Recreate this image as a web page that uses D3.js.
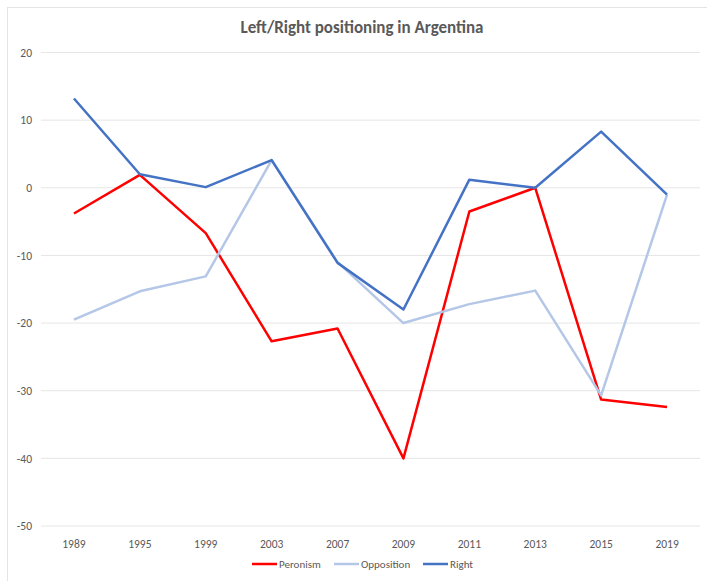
<!DOCTYPE html>
<html>
<head>
<meta charset="utf-8">
<script src="https://cdn.jsdelivr.net/npm/d3@7"></script>
<style>
  body { margin: 0; background: #fff; }
  text { font-family: Calibri, Carlito, "Liberation Sans Narrow", "DejaVu Sans Condensed", sans-serif; }
</style>
</head>
<body>
<div id="chart-container"></div>
<script>
// Data
const years = ["1989", "1995", "1999", "2003", "2007", "2009", "2011", "2013", "2015", "2019"];
const peronism   = [-3.8, 1.9, -6.7, -22.7, -20.8, -40, -3.5, 0, -31.3, -32.4];
const opposition = [-19.5, -15.3, -13.1, 4.1, -11, -20, -17.2, -15.2, -30.7, -1];
const right      = [13.2, 2, 0.1, 4.1, -11.1, -18, 1.2, 0, 8.3, -1];
const yTicks = [20, 10, 0, -10, -20, -30, -40, -50];

const series = [
  {name: "Peronism", values: peronism, color: "#ff0000"},
  {name: "Opposition", values: opposition, color: "#b4c7e7"},
  {name: "Right", values: right, color: "#4472c4"}
];

const W = 707, H = 581;
const margin = {top: 52.5, right: 7, bottom: 55, left: 41};
const width = W - margin.left - margin.right;
const height = H - margin.top - margin.bottom;

const svg = d3.select("#chart-container")
  .append("svg")
    .attr("width", W)
    .attr("height", H);

// chart frame
svg.append("rect")
  .attr("x", 7.5).attr("y", 7.5)
  .attr("width", W - 7).attr("height", H - 7)
  .attr("fill", "#fff")
  .attr("stroke", "#e4e4e4");

svg.append("text")
  .attr("x", 362).attr("y", 33)
  .attr("text-anchor", "middle")
  .style("font-size", "17px")
  .style("font-weight", "bold")
  .attr("fill", "#595959")
  .text("Left/Right positioning in Argentina");

const g = svg.append("g")
  .attr("transform", `translate(${margin.left}, ${margin.top})`);

const x = d3.scaleBand().domain(years).range([0, width]);
const y = d3.scaleLinear().domain([-50, 20]).range([height, 0]);

// horizontal gridlines
g.selectAll(".grid")
  .data(yTicks)
  .join("line")
  .attr("x1", 0).attr("x2", width)
  .attr("y1", d => y(d)).attr("y2", d => y(d))
  .attr("stroke", "#e6e6e6")
  .attr("stroke-width", 1);

// y axis (plain hyphen like the original)
g.append("g")
  .call(d3.axisLeft(y).tickValues(yTicks).tickFormat(d => String(d)).tickSize(0).tickPadding(9))
  .call(a => a.select(".domain").remove())
  .selectAll("text")
  .style("font-size", "11.5px")
  .attr("fill", "#595959");

// x axis
g.append("g")
  .attr("transform", `translate(0, ${height})`)
  .call(d3.axisBottom(x).tickSize(0).tickPadding(14))
  .call(a => a.select(".domain").remove())
  .selectAll("text")
  .style("font-size", "11.5px")
  .attr("fill", "#595959");

const line = d3.line()
  .x((d, i) => x(years[i]) + x.bandwidth() / 2)
  .y(d => y(d));

g.selectAll(".series")
  .data(series)
  .join("path")
  .attr("fill", "none")
  .attr("stroke", d => d.color)
  .attr("stroke-width", 2.5)
  .attr("stroke-linejoin", "round")
  .attr("d", d => line(d.values));

// legend
const legendX = [252, 334, 423];
const leg = svg.selectAll(".legend")
  .data(series)
  .join("g")
  .attr("transform", (d, i) => `translate(${legendX[i]}, 564)`);
leg.append("line")
  .attr("x1", 0).attr("x2", 25)
  .attr("stroke", d => d.color)
  .attr("stroke-width", 2.5);
leg.append("text")
  .attr("x", 27).attr("y", 4)
  .style("font-size", "11px")
  .attr("fill", "#595959")
  .text(d => d.name);
</script>
</body>
</html>
